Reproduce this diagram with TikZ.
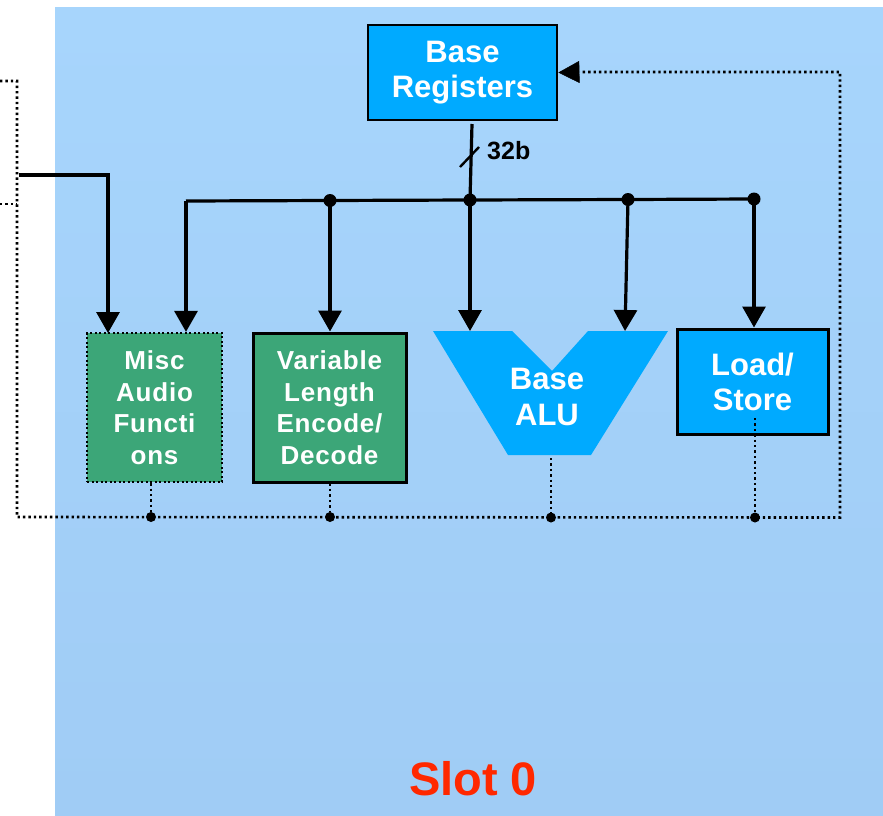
\documentclass[tikz,border=0pt]{standalone}
\usepackage{fontspec}
\setmainfont{Liberation Sans}
\usetikzlibrary{arrows.meta,calc}
\definecolor{bgtop}{RGB}{167,213,252}
\definecolor{bgbot}{RGB}{160,204,245}
\definecolor{boxblue}{RGB}{0,170,255}
\definecolor{boxgreen}{RGB}{60,166,120}
\definecolor{slotred}{RGB}{255,40,0}
\begin{document}
\begin{tikzpicture}[x=1pt,y=-1pt,
  wire/.style={line width=3.2pt},
  tipped/.style={-{Triangle[width=23pt,length=21pt]}},
  dots/.style={line width=2.6pt,dash pattern=on 2.4pt off 3pt},
  bluebox/.style={draw=black,line width=2.8pt,fill=boxblue,text=white,
    font=\bfseries\fontsize{31}{35}\selectfont,align=center,inner sep=0pt},
  greenbox/.style={fill=boxgreen,text=white,
    font=\bfseries\fontsize{26}{31.5}\selectfont\addfontfeature{LetterSpace=3},
    align=center,inner sep=0pt,minimum height=149pt},
  jdot/.style={circle,fill=black,inner sep=0pt,minimum size=13pt},
  sdot/.style={circle,fill=black,inner sep=0pt,minimum size=10pt}]
\useasboundingbox (0,0) rectangle (883,816);
\shade[top color=bgtop,bottom color=bgbot] (55,7.5) rectangle (883,816);

% boxes
\node[bluebox,minimum width=189pt,minimum height=95pt] (breg) at (462.5,72.5) {Base\\Registers};
\node[greenbox,draw=black,line width=2.2pt,dash pattern=on 2pt off 2.5pt,minimum width=135pt] (misc) at (154.5,407.5) {Misc\\Audio\\Functi\\ons};
\node[greenbox,draw=black,line width=3pt,minimum width=153pt] (vl) at (329.5,407.5) {Variable\\Length\\Encode/\\Decode};
\fill[boxblue] (433,331) -- (512,331) -- (552,371) -- (588,331) -- (668,331) -- (591,455) -- (508,455) -- cycle;
\coordinate (alutop) at (470,331);
\node[text=white,font=\bfseries\fontsize{31}{36.5}\selectfont,align=center,inner sep=0pt] (alu) at (547,397) {Base\\ALU};
\node[bluebox,line width=3pt,minimum width=151pt,minimum height=105pt] (ls) at (752.5,381.5) {Load/\\Store};
\node[text=slotred,font=\bfseries\fontsize{47}{56}\selectfont,inner sep=0pt] (slot) at (473,779) {Slot 0};

% bus
\coordinate (b0) at (186,201);
\node[jdot] (j1) at (330,200.5) {};
\node[jdot] (j2) at (470,200) {};
\node[jdot] (j3) at (628,199.5) {};
\node[jdot] (j4) at (754,199) {};
\draw[wire] (b0) -- (j1.center) -- (j2.center) -- (j3.center) -- (j4.center);
\coordinate (bt) at (472,124);
\draw[wire] (bt) -- (j2.center);
\draw[line width=2.4pt] (460,167) -- (479,147);
\node[anchor=base west,font=\bfseries\fontsize{25}{28}\selectfont,inner sep=0pt] (lbl) at (487,159) {32b};

\draw[wire,tipped] (b0) -- (b0 |- misc.north);
\draw[wire,tipped] (j1.center) -- (j1 |- vl.north);
\draw[wire,tipped] (j2.center) -- (j2 |- alutop);
\draw[wire,tipped] (j3.center) -- (625,331);
\draw[wire,tipped] (j4.center) -- (j4 |- ls.north);

% left input
\coordinate (lin) at (19,175);
\draw[wire,tipped] (lin) -- (108,175) -- (108,333);

% dotted loop
\coordinate (c1) at (17,517);
\coordinate (c2) at (840,517.5);
\draw[dots] (0,81) -- (17,81) -- (c1) -- (c2) -- (840,72) -- (580,72);
\draw[-{Triangle[width=22pt,length=21pt]}] (580,72) -- (breg.east);
\draw[dots] (0,204) -- (17,204);

\node[sdot] (d1) at (151,517) {};
\node[sdot] (d2) at (330,517) {};
\node[sdot] (d3) at (551,517.5) {};
\node[sdot] (d4) at (755,517.5) {};
\draw[dots] (misc.south -| d1) -- (d1);
\draw[dots] (vl.south -| d2) -- (d2);
\draw[dots] (551,458) -- (d3);
\draw[dots] (755,418) -- (d4);
\end{tikzpicture}
\end{document}
